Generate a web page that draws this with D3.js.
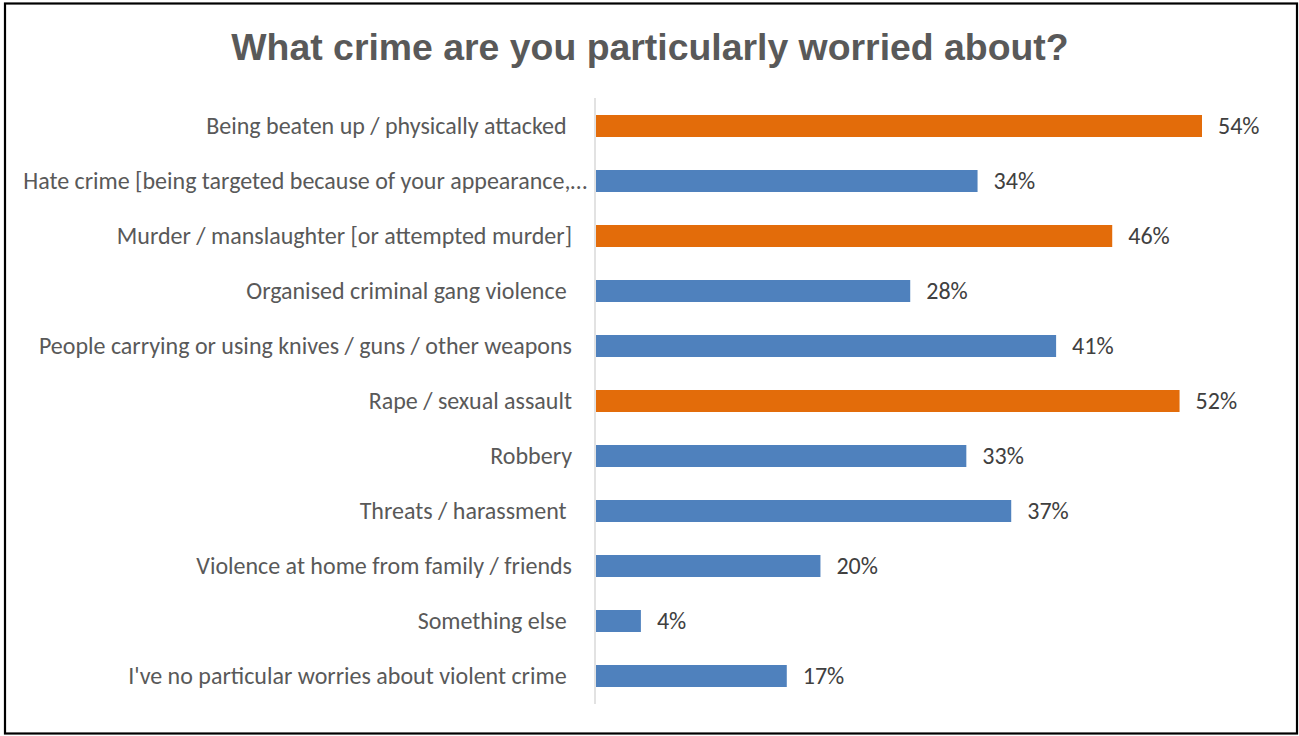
<!DOCTYPE html>
<html><head><meta charset="utf-8">
<script src="https://cdn.jsdelivr.net/npm/d3@7"></script>
<style>html,body{margin:0;padding:0;background:#fff;}</style>
</head><body>
<svg id="chart" width="1299" height="736"></svg>
<script>
const title = "What crime are you particularly worried about?";
const categories = [
  "Being beaten up / physically attacked ",
  "Hate crime [being targeted because of your appearance,…",
  "Murder / manslaughter [or attempted murder]",
  "Organised criminal gang violence ",
  "People carrying or using knives / guns / other weapons",
  "Rape / sexual assault",
  "Robbery",
  "Threats / harassment ",
  "Violence at home from family / friends",
  "Something else ",
  "I've no particular worries about violent crime "
];
const values = [54, 34, 46, 28, 41, 52, 33, 37, 20, 4, 17];
const highlighted = [true, false, true, false, false, true, false, false, false, false, false];

const W = 1299, H = 736;
const svg = d3.select("#chart");
svg.append("rect").attr("x", 5).attr("y", 3.5).attr("width", 1292).attr("height", 730)
  .attr("fill", "#fff").attr("stroke", "#000").attr("stroke-width", 2.2);

svg.append("text").attr("x", 650).attr("y", 60).attr("text-anchor", "middle")
  .attr("font-family", "Liberation Sans, Arial, sans-serif").attr("font-weight", "bold")
  .attr("font-size", 37.4).attr("fill", "#595959").text(title);

const axisX = 595;
const x = d3.scaleLinear().domain([0, 54]).range([axisX + 1, 1202]);
const y = d3.scaleBand().domain(categories).range([98.5, 703.5]).paddingInner(0.6).paddingOuter(0.3);

const g = svg.append("g");
g.selectAll("rect.bar").data(categories).join("rect").attr("class", "bar")
  .attr("x", x(0)).attr("y", d => y(d))
  .attr("width", (d, i) => x(values[i]) - x(0)).attr("height", y.bandwidth())
  .attr("fill", (d, i) => highlighted[i] ? "#E36C0A" : "#4F81BD");

g.append("line").attr("x1", axisX).attr("x2", axisX).attr("y1", 98).attr("y2", 704)
  .attr("stroke", "#d9d9d9").attr("stroke-width", 1.5);

const font = "Carlito, Calibri, 'Open Sans', sans-serif";
g.selectAll("text.cat").data(categories).join("text").attr("class", "cat")
  .attr("x", (d, i) => i === 1 ? 587 : 572)
  .attr("y", d => y(d) + y.bandwidth() / 2).attr("dy", "0.35em")
  .attr("text-anchor", "end").attr("font-family", font).attr("font-size", 24)
  .attr("fill", "#595959").style("white-space", "pre").text(d => d);

g.selectAll("text.val").data(values).join("text").attr("class", "val")
  .attr("x", d => x(d) + 16)
  .attr("y", (d, i) => y(categories[i]) + y.bandwidth() / 2).attr("dy", "0.35em")
  .attr("font-family", font).attr("font-size", 24).attr("fill", "#404040")
  .text(d => d + "%");
</script>
</body></html>
